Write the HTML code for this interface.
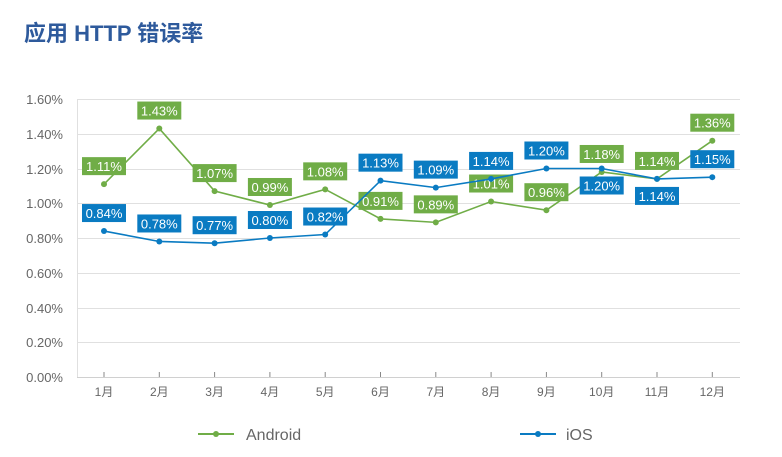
<!DOCTYPE html>
<html><head><meta charset="utf-8"><style>
body{margin:0;background:#fff;}
svg{display:block;font-family:"Liberation Sans","Noto Sans CJK SC",sans-serif;}
</style></head><body>
<svg width="782" height="457" viewBox="0 0 782 457">
<text x="24" y="41" font-size="22" font-weight="bold" fill="#2e5a9c">应用 HTTP 错误率</text>
<g stroke="#e0e0e0" stroke-width="1">
<line x1="77" x2="740" y1="99.5" y2="99.5"/><line x1="77" x2="740" y1="134.5" y2="134.5"/><line x1="77" x2="740" y1="169.5" y2="169.5"/><line x1="77" x2="740" y1="203.5" y2="203.5"/><line x1="77" x2="740" y1="238.5" y2="238.5"/><line x1="77" x2="740" y1="273.5" y2="273.5"/><line x1="77" x2="740" y1="308.5" y2="308.5"/><line x1="77" x2="740" y1="342.5" y2="342.5"/>
<line x1="77.5" x2="77.5" y1="99" y2="377"/>
</g>
<line x1="77" x2="740" y1="377.5" y2="377.5" stroke="#d0d0d0"/>
<g fill="#666" font-size="13" text-anchor="end">
<text x="63" y="104">1.60%</text><text x="63" y="139">1.40%</text><text x="63" y="174">1.20%</text><text x="63" y="208">1.00%</text><text x="63" y="243">0.80%</text><text x="63" y="278">0.60%</text><text x="63" y="313">0.40%</text><text x="63" y="347">0.20%</text><text x="63" y="382">0.00%</text>
</g>
<g id="ticks" stroke="#888"></g>
<g id="xl" fill="#666" font-size="12" text-anchor="middle"></g>
<g id="series"></g>
<g>
<line x1="198" x2="234" y1="434" y2="434" stroke="#70ad47" stroke-width="2"/><circle cx="216" cy="434" r="3" fill="#70ad47"/>
<text x="246" y="440" font-size="16" fill="#666">Android</text>
<line x1="520" x2="556" y1="434" y2="434" stroke="#0a7bc2" stroke-width="2"/><circle cx="538" cy="434" r="3" fill="#0a7bc2"/>
<text x="566" y="440" font-size="16" fill="#666">iOS</text>
</g>
</svg>
<script>
const ns="http://www.w3.org/2000/svg";
const X=i=>104+i*55.3, Y=v=>377-v/1.6*278;
const and=[1.11,1.43,1.07,0.99,1.08,0.91,0.89,1.01,0.96,1.18,1.14,1.36];
const ios=[0.84,0.78,0.77,0.80,0.82,1.13,1.09,1.14,1.20,1.20,1.14,1.15];
const iosBelow=[9,10];
function el(t,a,p){const e=document.createElementNS(ns,t);for(const k in a)e.setAttribute(k,a[k]);p.appendChild(e);return e;}
const tk=document.getElementById('ticks'),xl=document.getElementById('xl'),s=document.getElementById('series');
for(let i=0;i<12;i++){el('line',{x1:X(i),x2:X(i),y1:372,y2:377},tk);const t=el('text',{x:X(i),y:396},xl);t.textContent=(i+1)+'月';}
function draw(d,c,below){
 el('polyline',{points:d.map((v,i)=>X(i)+','+Y(v)).join(' '),fill:'none',stroke:c,'stroke-width':1.6},s);
 d.forEach((v,i)=>{el('circle',{cx:X(i),cy:Y(v),r:3,fill:c},s);
  const cy=below.includes(i)?Y(v)+17:Y(v)-18;
  el('rect',{x:X(i)-22,y:cy-9,width:44,height:18,fill:c},s);
  const t=el('text',{x:X(i),y:cy+5,'text-anchor':'middle','font-size':13,fill:'#fff'},s);t.textContent=v.toFixed(2)+'%';});
}
draw(and,'#70ad47',[]);draw(ios,'#0a7bc2',iosBelow);
</script>
</body></html>
